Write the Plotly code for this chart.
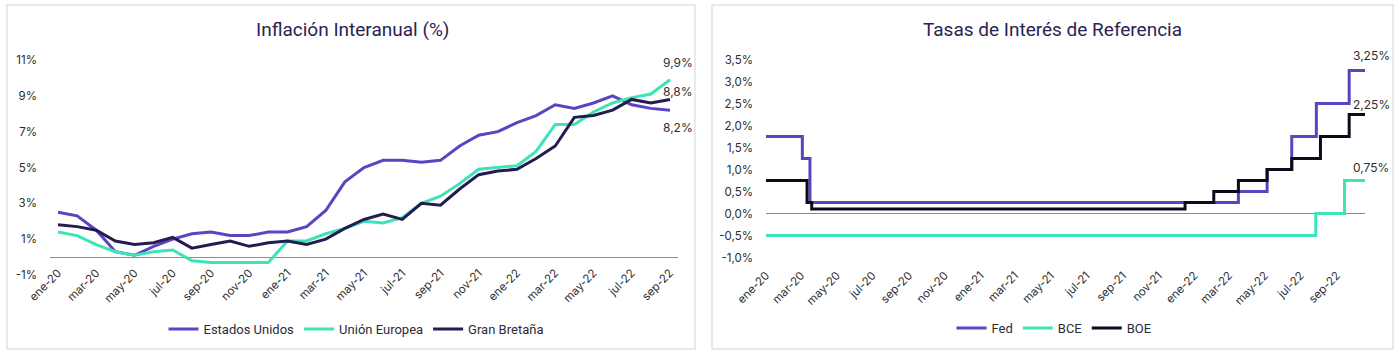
import plotly.graph_objects as go
import pandas as pd

# ---------------- Data: Inflación interanual (%) ----------------
months = ["ene-20", "feb-20", "mar-20", "abr-20", "may-20", "jun-20", "jul-20", "ago-20", "sep-20", "oct-20",
          "nov-20", "dic-20", "ene-21", "feb-21", "mar-21", "abr-21", "may-21", "jun-21", "jul-21", "ago-21",
          "sep-21", "oct-21", "nov-21", "dic-21", "ene-22", "feb-22", "mar-22", "abr-22", "may-22", "jun-22",
          "jul-22", "ago-22", "sep-22"]
estados_unidos = [2.5, 2.3, 1.5, 0.3, 0.1, 0.6, 1.0, 1.3, 1.4, 1.2, 1.2, 1.4, 1.4, 1.7, 2.6, 4.2, 5.0, 5.4,
                  5.4, 5.3, 5.4, 6.2, 6.8, 7.0, 7.5, 7.9, 8.5, 8.3, 8.6, 9.0, 8.5, 8.3, 8.2]
union_europea = [1.4, 1.2, 0.7, 0.3, 0.1, 0.3, 0.4, -0.2, -0.3, -0.3, -0.3, -0.3, 0.9, 0.9, 1.3, 1.6, 2.0, 1.9,
                 2.2, 3.0, 3.4, 4.1, 4.9, 5.0, 5.1, 5.9, 7.4, 7.4, 8.1, 8.6, 8.9, 9.1, 9.9]
gran_bretana = [1.8, 1.7, 1.5, 0.9, 0.7, 0.8, 1.1, 0.5, 0.7, 0.9, 0.6, 0.8, 0.9, 0.7, 1.0, 1.6, 2.1, 2.4,
                2.1, 3.0, 2.9, 3.8, 4.6, 4.8, 4.9, 5.5, 6.2, 7.8, 7.9, 8.2, 8.8, 8.6, 8.8]
infl_ticks = [-1, 1, 3, 5, 7, 9, 11]

# ---------------- Data: Tasas de interés de referencia (%) ----------------
fed_dates = ["2020-01-01", "2020-03-03", "2020-03-16", "2022-03-17", "2022-05-05", "2022-06-16",
             "2022-07-28", "2022-09-22", "2022-10-19"]
fed_rate = [1.75, 1.25, 0.25, 0.50, 1.00, 1.75, 2.50, 3.25, 3.25]
bce_dates = ["2020-01-01", "2022-07-27", "2022-09-14", "2022-10-19"]
bce_rate = [-0.50, 0.00, 0.75, 0.75]
boe_dates = ["2020-01-01", "2020-03-11", "2020-03-19", "2021-12-16", "2022-02-03", "2022-03-17",
             "2022-05-05", "2022-06-16", "2022-08-04", "2022-09-22", "2022-10-19"]
boe_rate = [0.75, 0.25, 0.10, 0.25, 0.50, 0.75, 1.00, 1.25, 1.75, 2.25, 2.25]
rate_ticks = [-1.0, -0.5, 0.0, 0.5, 1.0, 1.5, 2.0, 2.5, 3.0, 3.5]
rate_tick_dates = [d.strftime("%Y-%m-%d") for d in pd.date_range("2020-01-01", "2022-09-01", freq="2MS")]
rate_tick_labels = months[::2]

# ---------------- Style ----------------
C_US = "#5d42c1"
C_EU = "#3ee3b6"
C_UK = "#241c50"
C_BOE = "#0c0b1c"
TXT = "#2e2e2e"
TITLE = "#2a2352"
FONT = "Inter"
W, H = 1400, 356


def px(xp):
    return xp / W


def py(yp):
    return 1 - yp / H


def pct(v, nd):
    return f"{v:.{nd}f}".replace(".", ",") + "%"


fig = go.Figure()

# Left chart traces
for name, ys, col in [("Estados Unidos", estados_unidos, C_US),
                      ("Unión Europea", union_europea, C_EU),
                      ("Gran Bretaña", gran_bretana, C_UK)]:
    fig.add_trace(go.Scatter(x=months, y=ys, name=name, mode="lines",
                             line=dict(color=col, width=3), xaxis="x", yaxis="y",
                             legend="legend", hoverinfo="skip"))

# Right chart traces
for name, xs, ys, col in [("Fed", fed_dates, fed_rate, C_US),
                          ("BCE", bce_dates, bce_rate, C_EU),
                          ("BOE", boe_dates, boe_rate, C_BOE)]:
    fig.add_trace(go.Scatter(x=xs, y=ys, name=name, mode="lines", line_shape="hv",
                             line=dict(color=col, width=3), xaxis="x2", yaxis="y2",
                             legend="legend2", hoverinfo="skip"))

annotations = [
    dict(text="Inflación Interanual (%)", x=px(352), y=py(30), xref="paper", yref="paper",
         showarrow=False, xanchor="center", yanchor="middle",
         font=dict(family="Roboto", size=19, color=TITLE)),
    dict(text="Tasas de Interés de Referencia", x=px(1052), y=py(30), xref="paper", yref="paper",
         showarrow=False, xanchor="center", yanchor="middle",
         font=dict(family="Roboto", size=19, color=TITLE)),
]
# End labels, left chart
for ys, ysh in [(union_europea, 17), (gran_bretana, 8), (estados_unidos, -17)]:
    annotations.append(dict(text=pct(ys[-1], 1), x=months[-1], y=ys[-1], xref="x", yref="y",
                            showarrow=False, xanchor="left", yanchor="middle", xshift=-9, yshift=ysh,
                            font=dict(family=FONT, size=12, color=TXT)))
# End labels, right chart
for xs, ys, ysh in [(fed_dates, fed_rate, 15), (boe_dates, boe_rate, 10), (bce_dates, bce_rate, 13)]:
    annotations.append(dict(text=pct(ys[-1], 2), x=xs[-1], y=ys[-1], xref="x2", yref="y2",
                            showarrow=False, xanchor="left", yanchor="middle", xshift=-14, yshift=ysh,
                            font=dict(family=FONT, size=12, color=TXT)))

shapes = [
    dict(type="rect", xref="paper", yref="paper", x0=px(7), x1=px(695), y0=py(349), y1=py(5),
         line=dict(color="#e2e2e2", width=1.5), fillcolor="rgba(0,0,0,0)", layer="below"),
    dict(type="rect", xref="paper", yref="paper", x0=px(712), x1=px(1393), y0=py(349), y1=py(5),
         line=dict(color="#e2e2e2", width=1.5), fillcolor="rgba(0,0,0,0)", layer="below"),
]

tickfont = dict(family=FONT, size=11.5, color=TXT)

fig.update_layout(
    template="none",
    width=W, height=H, margin=dict(l=0, r=0, t=0, b=0, autoexpand=False),
    paper_bgcolor="white", plot_bgcolor="white",
    separators=",.",
    showlegend=True,
    annotations=annotations, shapes=shapes,
    xaxis=dict(domain=[px(50), px(678)], type="category", categoryorder="array", categoryarray=months,
               range=[-0.42, len(months) - 1 + 0.42], tickmode="array", tickvals=months[::2],
               ticktext=months[::2], tickangle=-45, automargin=False,
               showgrid=False, showline=False, zeroline=False, ticks="", tickfont=tickfont,
               ticklabelstandoff=-12, anchor="y", fixedrange=True),
    yaxis=dict(domain=[py(275), py(60)], range=[-1, 11], tickmode="array", tickvals=infl_ticks,
               ticktext=[pct(v, 0) for v in infl_ticks], automargin=False,
               showgrid=False, showline=False, zeroline=True, zerolinecolor="#8c8c8c", zerolinewidth=1,
               ticks="", tickfont=tickfont, ticklabelstandoff=12, anchor="x", fixedrange=True),
    xaxis2=dict(domain=[px(766), px(1365)], type="date", range=[fed_dates[0], fed_dates[-1]],
                tickmode="array", tickvals=rate_tick_dates, ticktext=rate_tick_labels, tickangle=-45,
                automargin=False, showgrid=False, showline=False, zeroline=False, ticks="",
                tickfont=tickfont, ticklabelstandoff=8, anchor="y2", fixedrange=True),
    yaxis2=dict(domain=[py(257.5), py(59.5)], range=[-1, 3.5], tickmode="array", tickvals=rate_ticks,
                ticktext=[pct(v, 1) for v in rate_ticks], automargin=False,
                showgrid=False, showline=False, zeroline=True, zerolinecolor="#8c8c8c",
                zerolinewidth=1, ticks="", tickfont=tickfont, ticklabelstandoff=12, anchor="x2",
                fixedrange=True),
    legend=dict(orientation="h", x=px(356), y=py(329), xanchor="center", yanchor="middle",
                font=dict(family="Roboto", size=13, color="#2b2b3a"), itemwidth=30,
                bgcolor="rgba(0,0,0,0)", tracegroupgap=0),
    legend2=dict(orientation="h", x=px(1054), y=py(328), xanchor="center", yanchor="middle",
                 font=dict(family="Roboto", size=13, color="#2b2b3a"), itemwidth=30,
                 bgcolor="rgba(0,0,0,0)", tracegroupgap=0),
)

fig.write_html("out.html", config={"displayModeBar": False},
               post_script="document.body.style.margin='0';document.body.style.overflow='hidden';")
